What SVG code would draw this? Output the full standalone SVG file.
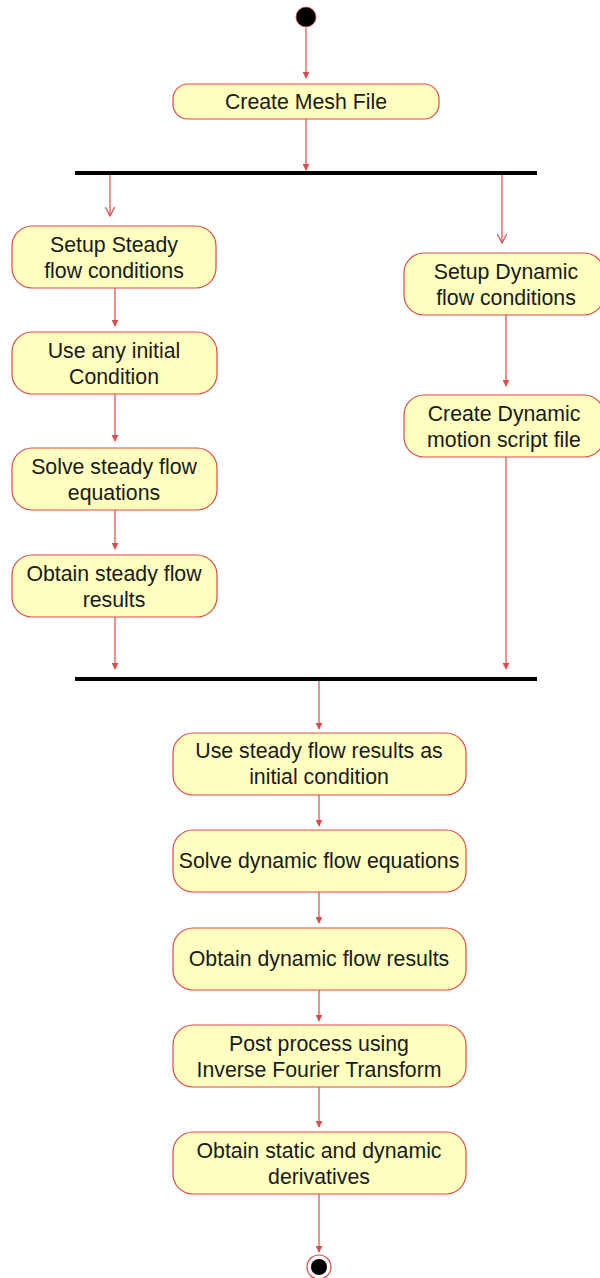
<svg xmlns="http://www.w3.org/2000/svg" width="600" height="1278" viewBox="0 0 600 1278">
  <defs>
    <style>
      .act { fill: #ffffc0; stroke: #e04848; stroke-width: 1.2; }
      .lbl { font-family: "Liberation Sans", Arial, sans-serif; font-size: 21.3px; fill: #1a1a1a; text-anchor: middle; }
      .flow { stroke: #e04848; stroke-width: 1.2; fill: none; }
      .bar { fill: #000; }
    </style>
    <marker id="solid" viewBox="0 0 10 10" refX="9" refY="5" markerWidth="7" markerHeight="7" markerUnits="userSpaceOnUse" orient="auto">
      <path d="M0,0 L10,5 L0,10 Z" fill="#e04848"/>
    </marker>
    <marker id="open" viewBox="0 0 10 10" refX="9.5" refY="5" markerWidth="10" markerHeight="10" markerUnits="userSpaceOnUse" orient="auto">
      <path d="M0,0 L9.5,5 L0,10" fill="none" stroke="#e04848" stroke-width="1.2"/>
    </marker>
  </defs>

  <rect width="600" height="1278" fill="#ffffff"/>

  <!-- connectors -->
  <g id="connectors">
    <line class="flow" x1="306" y1="28" x2="306" y2="78" marker-end="url(#solid)"/>
    <line class="flow" x1="306" y1="119" x2="306" y2="170" marker-end="url(#solid)"/>
    <line class="flow" x1="110" y1="175" x2="110" y2="216" marker-end="url(#open)"/>
    <line class="flow" x1="502" y1="175" x2="502" y2="243" marker-end="url(#open)"/>
    <line class="flow" x1="115" y1="288" x2="115" y2="326" marker-end="url(#solid)"/>
    <line class="flow" x1="115" y1="394" x2="115" y2="441" marker-end="url(#solid)"/>
    <line class="flow" x1="115" y1="510" x2="115" y2="549" marker-end="url(#solid)"/>
    <line class="flow" x1="115" y1="617" x2="115" y2="669" marker-end="url(#solid)"/>
    <line class="flow" x1="506" y1="315" x2="506" y2="386" marker-end="url(#solid)"/>
    <line class="flow" x1="506" y1="457" x2="506" y2="669" marker-end="url(#solid)"/>
    <line class="flow" x1="319" y1="681" x2="319" y2="729" marker-end="url(#solid)"/>
    <line class="flow" x1="319" y1="795" x2="319" y2="826" marker-end="url(#solid)"/>
    <line class="flow" x1="319" y1="892" x2="319" y2="923" marker-end="url(#solid)"/>
    <line class="flow" x1="319" y1="990" x2="319" y2="1021" marker-end="url(#solid)"/>
    <line class="flow" x1="319" y1="1087" x2="319" y2="1127" marker-end="url(#solid)"/>
    <line class="flow" x1="319" y1="1194" x2="319" y2="1252" marker-end="url(#solid)"/>
  </g>

  <!-- initial node -->
  <g id="start">
    <circle cx="306" cy="17" r="10" fill="#000" stroke="#e04848" stroke-width="0.8"/>
  </g>

  <g id="create-mesh">
    <rect class="act" x="173" y="84" width="266" height="35" rx="15"/>
    <text class="lbl" x="306" y="109">Create Mesh File</text>
  </g>

  <!-- fork -->
  <g id="fork">
    <rect class="bar" x="75" y="171" width="462" height="4"/>
  </g>

  <g id="setup-steady">
    <rect class="act" x="12" y="226" width="204" height="62" rx="20"/>
    <text class="lbl" x="114" y="252">Setup Steady</text>
    <text class="lbl" x="114" y="278">flow conditions</text>
  </g>

  <g id="initial-condition">
    <rect class="act" x="12" y="332" width="205" height="62" rx="20"/>
    <text class="lbl" x="114" y="358">Use any initial</text>
    <text class="lbl" x="114" y="384">Condition</text>
  </g>

  <g id="solve-steady">
    <rect class="act" x="12" y="448" width="205" height="62" rx="20"/>
    <text class="lbl" x="114" y="474">Solve steady flow</text>
    <text class="lbl" x="114" y="500">equations</text>
  </g>

  <g id="obtain-steady">
    <rect class="act" x="12" y="555" width="205" height="62" rx="20"/>
    <text class="lbl" x="114" y="581">Obtain steady flow</text>
    <text class="lbl" x="114" y="607">results</text>
  </g>

  <g id="setup-dynamic">
    <rect class="act" x="404" y="253" width="200" height="62" rx="20"/>
    <text class="lbl" x="506" y="279">Setup Dynamic</text>
    <text class="lbl" x="506" y="305">flow conditions</text>
  </g>

  <g id="motion-script">
    <rect class="act" x="404" y="395" width="200" height="62" rx="20"/>
    <text class="lbl" x="504" y="421">Create Dynamic</text>
    <text class="lbl" x="504" y="447">motion script file</text>
  </g>

  <!-- join -->
  <g id="join">
    <rect class="bar" x="75" y="677" width="462" height="4"/>
  </g>

  <g id="use-steady-results">
    <rect class="act" x="173" y="733" width="293" height="62" rx="20"/>
    <text class="lbl" x="319" y="758">Use steady flow results as</text>
    <text class="lbl" x="319" y="784">initial condition</text>
  </g>

  <g id="solve-dynamic">
    <rect class="act" x="173" y="830" width="293" height="62" rx="20"/>
    <text class="lbl" x="319" y="868">Solve dynamic flow equations</text>
  </g>

  <g id="obtain-dynamic">
    <rect class="act" x="173" y="928" width="293" height="62" rx="20"/>
    <text class="lbl" x="319" y="966">Obtain dynamic flow results</text>
  </g>

  <g id="post-process">
    <rect class="act" x="173" y="1025" width="293" height="62" rx="20"/>
    <text class="lbl" x="319" y="1051">Post process using</text>
    <text class="lbl" x="319" y="1077">Inverse Fourier Transform</text>
  </g>

  <g id="derivatives">
    <rect class="act" x="173" y="1132" width="293" height="62" rx="20"/>
    <text class="lbl" x="319" y="1158">Obtain static and dynamic</text>
    <text class="lbl" x="319" y="1184">derivatives</text>
  </g>

  <!-- final node -->
  <g id="end">
    <circle cx="319" cy="1267" r="12" fill="#fff" stroke="#e04848" stroke-width="1.2"/>
    <circle cx="319" cy="1267" r="8" fill="#000"/>
  </g>
</svg>
